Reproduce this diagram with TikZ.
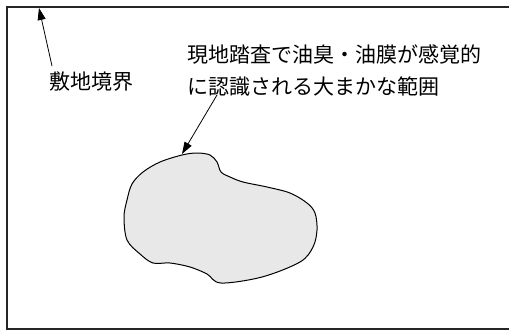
\documentclass[tikz,border=0pt]{standalone}
\usepackage{fontspec}
\newfontfamily\jpfont{Noto Sans CJK JP}
\usetikzlibrary{arrows.meta}
\begin{document}
\begin{tikzpicture}[x=1pt,y=-1pt,
  lbl/.style={inner sep=0pt,font=\jpfont\fontsize{21}{30}\selectfont,align=left},
  ptr/.style={line width=0.8pt,-{Triangle[length=12pt,width=8pt]}},
  border/.style={line width=1.6pt,draw=black!85},
  area/.style={line width=1pt,draw=black,fill=black!9}]
\useasboundingbox (0,0) rectangle (509,332);
\draw[border] (512,7) -- (7,7) -- (7,329) -- (512,329);
\draw[area] plot[smooth cycle,tension=0.55] coordinates {
 (182,155) (197,153) (210,155) (217,162) (221,172) (230,177) (243,182)
 (267,187) (290,193) (307,203) (315,213) (317,230) (313,247) (300,262)
 (262,277) (221,283) (207,274) (190,267) (170,263) (153,263) (140,254)
 (127,240) (124,217) (127,200) (132,184) (143,172) (160,162)};
\node[lbl,anchor=center] (site) at (91.5,82) {敷地境界};
\node[lbl,anchor=north west] (range) at (187,45) {現地踏査で油臭・油膜が感覚的\\[1.5pt]に認識される大まかな範囲};
\coordinate (t1) at (52,66);
\coordinate (h1) at (39,8);
\coordinate (t2) at (217,95);
\coordinate (h2) at (182,154);
\draw[ptr] (t1) -- (h1);
\draw[ptr] (t2) -- (h2);
\end{tikzpicture}
\end{document}
